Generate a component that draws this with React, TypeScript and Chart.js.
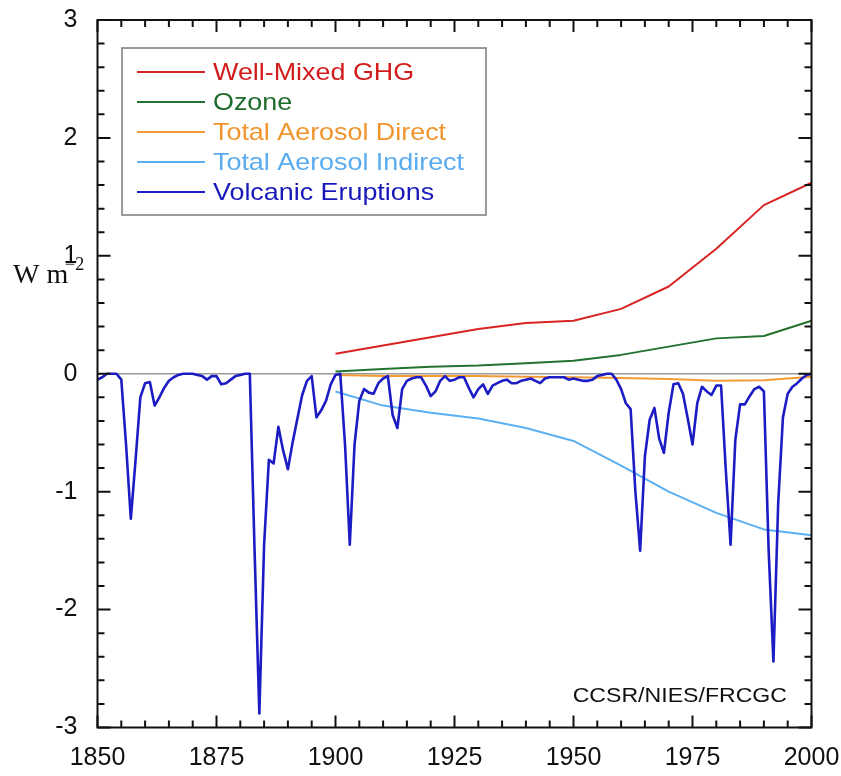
import { useEffect, useRef } from 'react';
import { Chart, registerables } from 'chart.js';

Chart.register(...registerables);

// Decadal anthropogenic forcing series (W m-2), 1900-2000
const DECADES = [1900, 1910, 1920, 1930, 1940, 1950, 1960, 1970, 1980, 1990, 2000];
const GHG = [0.17, 0.24, 0.31, 0.38, 0.43, 0.45, 0.55, 0.74, 1.06, 1.43, 1.62];
const OZONE = [0.02, 0.04, 0.06, 0.07, 0.09, 0.11, 0.16, 0.23, 0.3, 0.32, 0.45];
const AEROSOL_DIRECT = [-0.01, -0.02, -0.02, -0.02, -0.025, -0.03, -0.035, -0.045, -0.06, -0.055, -0.025];
const AEROSOL_INDIRECT = [-0.15, -0.27, -0.33, -0.38, -0.46, -0.57, -0.78, -1.0, -1.18, -1.32, -1.37];

// Annual volcanic forcing (W m-2), starting 1850
const VOLCANIC_START = 1850;
const VOLCANIC = [
  -0.05, -0.03, 0, 0, 0, -0.05, -0.6, -1.23, -0.73, -0.2, // 1850s
  -0.08, -0.07, -0.27, -0.2, -0.12, -0.06, -0.03, -0.01, 0, 0, // 1860s
  0, -0.01, -0.02, -0.05, -0.02, -0.02, -0.09, -0.08, -0.05, -0.02, // 1870s
  -0.01, 0, 0, -1.5, -2.88, -1.45, -0.73, -0.76, -0.45, -0.65, // 1880s
  -0.81, -0.58, -0.38, -0.18, -0.06, -0.02, -0.37, -0.31, -0.23, -0.09, // 1890s
  -0.01, 0, -0.6, -1.45, -0.6, -0.23, -0.13, -0.16, -0.17, -0.08, // 1900s
  -0.04, -0.02, -0.35, -0.46, -0.13, -0.06, -0.04, -0.03, -0.03, -0.1, // 1910s
  -0.19, -0.15, -0.06, -0.02, -0.06, -0.05, -0.03, -0.03, -0.12, -0.2, // 1920s
  -0.13, -0.09, -0.17, -0.1, -0.08, -0.06, -0.05, -0.08, -0.08, -0.06, // 1930s
  -0.05, -0.04, -0.06, -0.08, -0.04, -0.03, -0.03, -0.03, -0.03, -0.05, // 1940s
  -0.04, -0.05, -0.06, -0.06, -0.05, -0.02, -0.01, 0, 0, -0.05, // 1950s
  -0.13, -0.25, -0.3, -1.0, -1.5, -0.7, -0.39, -0.29, -0.55, -0.67, // 1960s
  -0.33, -0.09, -0.08, -0.17, -0.38, -0.6, -0.25, -0.11, -0.15, -0.18, // 1970s
  -0.1, -0.1, -0.82, -1.45, -0.56, -0.26, -0.26, -0.19, -0.13, -0.11, // 1980s
  -0.15, -1.5, -2.44, -1.1, -0.37, -0.17, -0.11, -0.08, -0.04, -0.01, // 1990s
  0, // 2000
];

const SERIES_NAMES = [
  'Well-Mixed GHG',
  'Ozone',
  'Total Aerosol Direct',
  'Total Aerosol Indirect',
  'Volcanic Eruptions',
];
const LINE_COLORS = ['#d82424', '#23722f', '#f39a35', '#5cb0f2', '#1c1cc4'];
const TEXT_COLORS = ['#d21c1c', '#1f6b2b', '#f0952d', '#5aabef', '#1818b8'];

const X_TICKS = [1850, 1875, 1900, 1925, 1950, 1975, 2000];
const Y_TICKS = [-3, -2, -1, 0, 1, 2, 3];
const SOURCE_NOTE = 'CCSR/NIES/FRCGC';

const SANS = '"Liberation Sans", Arial, Helvetica, sans-serif';
const SERIF = '"Liberation Serif", "Times New Roman", serif';

const toPoints = (xs: number[], ys: number[]) => ys.map((v, i) => ({ x: xs[i], y: v }));

// Fixed axis box sizes; no extra room for overhanging tick labels.
const fixBox = (size: number) => (s: any) => {
  if (s.isHorizontal()) s.height = size;
  else s.width = size;
  s.paddingLeft = 0;
  s.paddingRight = 0;
  s.paddingTop = 0;
  s.paddingBottom = 0;
};

// Zero line behind the data; frame, inward ticks, legend box and notes on top.
const decorations = {
  id: 'decorations',
  beforeDatasetsDraw(chart: any) {
    const { ctx, chartArea: a, scales } = chart;
    const y0 = scales.y.getPixelForValue(0);
    ctx.save();
    ctx.strokeStyle = '#9a9a9a';
    ctx.lineWidth = 1.5;
    ctx.beginPath();
    ctx.moveTo(a.left, y0);
    ctx.lineTo(a.right, y0);
    ctx.stroke();
    ctx.restore();
  },
  afterDraw(chart: any) {
    const { ctx, chartArea: a, scales } = chart;
    const xs = scales.x;
    const ys = scales.y;
    ctx.save();
    ctx.strokeStyle = '#111';
    ctx.lineWidth = 2;
    ctx.strokeRect(a.left, a.top, a.right - a.left, a.bottom - a.top);

    // x ticks every 5 years, major every 25, on bottom and top edges
    ctx.beginPath();
    for (let yr = xs.min; yr <= xs.max; yr += 5) {
      const px = xs.getPixelForValue(yr);
      const len = (yr - xs.min) % 25 === 0 ? 12 : 7;
      ctx.moveTo(px, a.bottom);
      ctx.lineTo(px, a.bottom - len);
      ctx.moveTo(px, a.top);
      ctx.lineTo(px, a.top + len);
    }
    // y ticks every 0.2, major every 1, on left and right edges
    for (let k = 0; k <= 30; k++) {
      const v = ys.min + k * 0.2;
      const py = ys.getPixelForValue(v);
      const len = k % 5 === 0 ? 13 : 7;
      ctx.moveTo(a.left, py);
      ctx.lineTo(a.left + len, py);
      ctx.moveTo(a.right, py);
      ctx.lineTo(a.right - len, py);
    }
    ctx.stroke();

    // legend
    const bx = 122, by = 48, bw = 364, bh = 167;
    ctx.fillStyle = '#fff';
    ctx.fillRect(bx, by, bw, bh);
    ctx.strokeStyle = '#7a7a7a';
    ctx.lineWidth = 1.5;
    ctx.strokeRect(bx, by, bw, bh);
    ctx.textBaseline = 'middle';
    ctx.textAlign = 'left';
    SERIES_NAMES.forEach((name, i) => {
      const cy = 72 + i * 30;
      ctx.strokeStyle = LINE_COLORS[i];
      ctx.lineWidth = 2;
      ctx.beginPath();
      ctx.moveTo(137, cy);
      ctx.lineTo(205, cy);
      ctx.stroke();
      ctx.save();
      ctx.translate(213, cy + 1);
      ctx.scale(1.12, 1);
      ctx.fillStyle = TEXT_COLORS[i];
      ctx.font = `24px ${SANS}`;
      ctx.fillText(name, 0, 0);
      ctx.restore();
    });

    // source note
    ctx.save();
    ctx.translate(787, 702);
    ctx.scale(1.1, 1);
    ctx.fillStyle = '#111';
    ctx.font = `21px ${SANS}`;
    ctx.textAlign = 'right';
    ctx.textBaseline = 'alphabetic';
    ctx.fillText(SOURCE_NOTE, 0, 0);
    ctx.restore();

    // unit label
    ctx.fillStyle = '#111';
    ctx.textAlign = 'left';
    ctx.textBaseline = 'alphabetic';
    ctx.font = `28px ${SERIF}`;
    ctx.fillText('W m', 13, 283);
    ctx.font = `18px ${SERIF}`;
    ctx.fillText('\u22122', 65, 270);
    ctx.restore();
  },
};

export default function App() {
  const canvasRef = useRef<HTMLCanvasElement | null>(null);

  useEffect(() => {
    const canvas = canvasRef.current;
    if (!canvas) return;
    const volcanicYears = VOLCANIC.map((_, i) => VOLCANIC_START + i);
    const tickFont = { family: SANS, size: 25 };
    const chart = new Chart(canvas, {
      type: 'line',
      data: {
        datasets: [
          { label: SERIES_NAMES[0], data: toPoints(DECADES, GHG), borderColor: LINE_COLORS[0], order: 4 },
          { label: SERIES_NAMES[1], data: toPoints(DECADES, OZONE), borderColor: LINE_COLORS[1], order: 3 },
          { label: SERIES_NAMES[2], data: toPoints(DECADES, AEROSOL_DIRECT), borderColor: LINE_COLORS[2], order: 2 },
          { label: SERIES_NAMES[3], data: toPoints(DECADES, AEROSOL_INDIRECT), borderColor: LINE_COLORS[3], order: 1 },
          { label: SERIES_NAMES[4], data: toPoints(volcanicYears, VOLCANIC), borderColor: LINE_COLORS[4], borderWidth: 2.6, order: 0 },
        ].map((d: any) => ({
          borderWidth: 2,
          pointRadius: 0,
          tension: 0,
          fill: false,
          borderJoinStyle: 'round',
          ...d,
        })),
      },
      options: {
        animation: false,
        responsive: false,
        events: [],
        layout: { padding: { top: 20, right: 29.5, left: 0, bottom: 0 } },
        plugins: { legend: { display: false }, tooltip: { enabled: false } },
        scales: {
          x: {
            type: 'linear',
            min: 1850,
            max: 2000,
            afterFit: fixBox(48.5),
            afterBuildTicks: (s: any) => { s.ticks = X_TICKS.map((v) => ({ value: v })); },
            ticks: {
              callback: (v: any) => String(v),
              font: tickFont,
              color: '#111',
              padding: 16,
              maxRotation: 0,
              autoSkip: false,
            },
            grid: { display: false, drawTicks: false },
            border: { display: false },
          },
          y: {
            type: 'linear',
            min: -3,
            max: 3,
            afterFit: fixBox(97.5),
            afterBuildTicks: (s: any) => { s.ticks = Y_TICKS.map((v) => ({ value: v })); },
            ticks: {
              callback: (v: any) => String(v),
              font: tickFont,
              color: '#111',
              padding: 20,
              autoSkip: false,
            },
            grid: { display: false, drawTicks: false },
            border: { display: false },
          },
        },
      },
      plugins: [decorations],
    } as any);
    return () => chart.destroy();
  }, []);

  return (
    <div style={{ position: 'fixed', left: 0, top: 0, width: 841, height: 776, background: '#fff' }}>
      <canvas ref={canvasRef} width={841} height={776} style={{ display: 'block' }} />
    </div>
  );
}
